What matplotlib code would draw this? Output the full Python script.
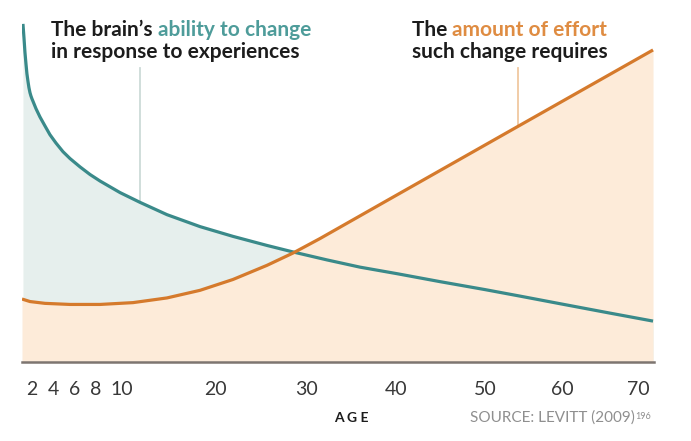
import numpy as np
import matplotlib
matplotlib.use("Agg")
import matplotlib.pyplot as plt

# ages on the x axis (the original axis is hand spaced, so map ticks to their drawn spots)
tick_ages = [2, 4, 6, 8, 10, 20, 30, 40, 50, 60, 70]
tick_labels = ["2", "4", "6", "8", "10", "20", "30", "40", "50", "60", "70"]
knot_ages = [0, 2, 4, 6, 8, 10, 20, 30, 40, 50, 60, 70, 80]
knot_pos = [11, 32, 53, 75, 96, 122, 215, 307, 396, 485, 562, 638, 718]

# brain's ability to change (teal)
ability_age = [1.14, 1.24, 1.33, 1.43, 1.52, 1.62, 1.71, 1.81, 1.90, 2.0, 2.10, 2.38,
               2.76, 3.24, 3.71, 4.27, 4.91, 5.55, 6.48, 7.43, 8.31, 9.85, 11.94, 14.84,
               18.39, 21.96, 25.65, 28.48, 32.25, 35.96, 40.11, 44.94, 50, 54.55, 60,
               66.32, 71.88]
ability_val = [93.4, 89.5, 85.6, 82.3, 79.6, 77.5, 75.8, 74.4, 73.5, 72.7, 72.0, 70.0,
               67.7, 65.2, 62.8, 60.5, 58.1, 56.2, 53.9, 51.8, 50.0, 46.8, 44.1, 40.7,
               37.4, 34.7, 32.2, 30.4, 28.2, 26.2, 24.4, 22.2, 20.0, 18.2, 16.0,
               13.5, 11.3]

# effort such change requires (orange)
effort_age = [1.05, 1.81, 3.24, 5.55, 8.31, 11.18, 14.84, 18.39, 21.96, 25.65, 28.48,
              31.46, 34.83, 38.20, 54.29, 71.88]
effort_val = [17.4, 16.7, 16.2, 15.9, 15.9, 16.4, 17.7, 19.8, 22.8, 26.7, 30.1,
              34.1, 38.8, 43.5, 65.1, 86.2]

teal = "#3a8a8a"
teal_txt = "#4e9c9a"
teal_fill = "#e6efed"
orange = "#d57a2c"
orange_txt = "#df8c42"
orange_fill = "#fdebd9"
dark = "#1c1c1c"


def fwd(a):
    return np.interp(a, knot_ages, knot_pos)


def inv(p):
    return np.interp(p, knot_pos, knot_ages)


fig = plt.figure(figsize=(6.91, 4.41), dpi=100)
ax = fig.add_axes([22/691, 1 - 362/441, 632/691, 362/441])
ax.set_xscale("function", functions=(fwd, inv))

ax.fill_between(ability_age, ability_val, 0, color=teal_fill, lw=0, zorder=1)
ax.fill_between(effort_age, effort_val, 0, color=orange_fill, lw=0, zorder=2)
ax.plot(ability_age, ability_val, color=teal, lw=2.3, zorder=4, solid_capstyle="butt",
        solid_joinstyle="round")
ax.plot(effort_age, effort_val, color=orange, lw=2.3, zorder=5, solid_capstyle="butt",
        solid_joinstyle="round")

# pointer lines to the labels
ax.plot([11.94, 11.94], [81.2, 44.1], color="#cddbd8", lw=1.3, zorder=3)
ax.plot([54.29, 54.29], [81.2, 65.1], color="#f0c8a0", lw=1.3, zorder=3)

ax.set_xlim(1.05, 72)
ax.set_ylim(0, 100)
for s in ["top", "left", "right"]:
    ax.spines[s].set_visible(False)
ax.spines["bottom"].set_color("#7d7570")
ax.spines["bottom"].set_linewidth(1.8)
ax.spines["bottom"].set_zorder(6)
ax.set_yticks([])
ax.set_xticks(tick_ages)
ax.set_xticklabels(tick_labels, fontsize=14, color="#383838", fontfamily="Lato")
ax.tick_params(axis="x", length=0, pad=14)
ax.minorticks_off()

head = dict(fontsize=15, fontweight="bold", fontfamily="Lato")

t = fig.text(51/691, 1 - 36/441, "The brain\u2019s ", color=dark, va="baseline", **head)
ax.annotate("ability to change", xy=(1, 0), xycoords=t, va="bottom", ha="left",
            color=teal_txt, annotation_clip=False, **head)
fig.text(51/691, 1 - 58/441, "in response to experiences", color=dark, va="baseline", **head)

t = fig.text(412/691, 1 - 36/441, "The ", color=dark, va="baseline", **head)
ax.annotate("amount of effort", xy=(1, 0), xycoords=t, va="bottom", ha="left",
            color=orange_txt, annotation_clip=False, **head)
fig.text(412/691, 1 - 58/441, "such change requires", color=dark, va="baseline", **head)

fig.text(351/691, 1 - 418/441, "A G E", fontsize=10, fontweight="bold", color=dark,
         ha="center", va="center", fontfamily="Lato")
s = fig.text(470/691, 1 - 418/441, "SOURCE: LEVITT (2009)", fontsize=11, color="#8f8f8f",
             ha="left", va="center", fontfamily="Lato")
ax.annotate("196", xy=(1, 0.95), xycoords=s, va="top", ha="left", fontsize=6.5,
            color="#8f8f8f", fontfamily="Lato", annotation_clip=False)

fig.savefig("out.png", dpi=100)
